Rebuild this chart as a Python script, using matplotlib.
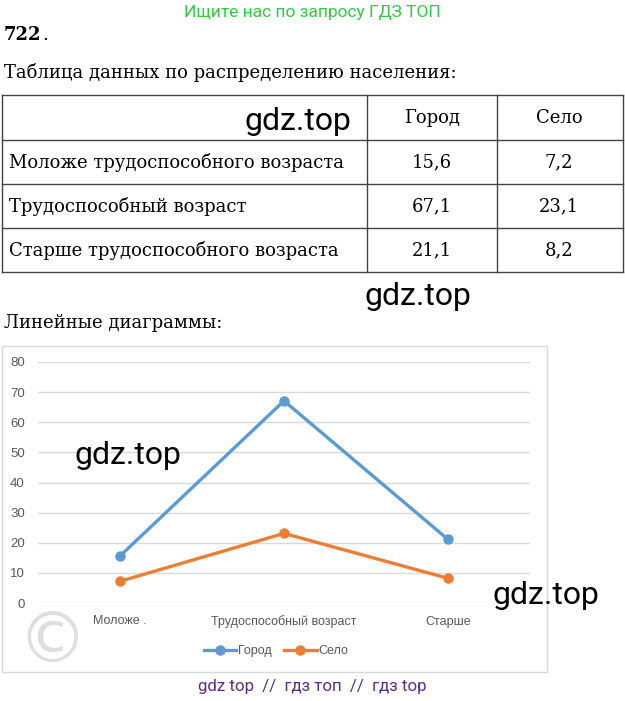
import matplotlib.pyplot as plt
from matplotlib.patches import Rectangle

# Данные таблицы и диаграммы
categories = ["Моложе трудоспособного возраста", "Трудоспособный возраст", "Старше трудоспособного возраста"]
axis_labels = ["Моложе .", "Трудоспособный возраст", "Старше"]
series_names = ["Город", "Село"]
city = [15.6, 67.1, 21.1]
village = [7.2, 23.1, 8.2]
city_txt = ["15,6", "67,1", "21,1"]
village_txt = ["7,2", "23,1", "8,2"]
yticks = [0, 10, 20, 30, 40, 50, 60, 70, 80]

W, H = 625, 701
fig = plt.figure(figsize=(W / 100, H / 100), dpi=100)
fig.patch.set_facecolor("white")

# фон-документ в пиксельных координатах
doc = fig.add_axes([0, 0, 1, 1])
doc.set_xlim(0, W)
doc.set_ylim(H, 0)
doc.axis("off")

serif = "DejaVu Serif"
fs = 13.0
doc.text(312, 12, "Ищите нас по запросу ГДЗ ТОП", color="#2ecc40", fontsize=12.5,
         family="Roboto", ha="center", va="center")
doc.text(4, 35, "722", fontsize=fs, family=serif, weight="bold", va="center")
doc.text(42, 35, ".", fontsize=fs, family=serif, va="center")
doc.text(4, 73, "Таблица данных по распределению населения:", fontsize=fs, family=serif, va="center")

# таблица
tl, tr = 2, 623
rows_y = [95, 140, 184, 228, 272]
cols_x = [tl, 367, 497, tr]
for y in rows_y:
    doc.plot([tl, tr], [y, y], color="#444444", lw=1)
for x in cols_x:
    doc.plot([x, x], [rows_y[0], rows_y[-1]], color="#444444", lw=1)

doc.text(432, 118, series_names[0], fontsize=fs, family=serif, ha="center", va="center")
doc.text(559, 118, series_names[1], fontsize=fs, family=serif, ha="center", va="center")
for i, cat in enumerate(categories):
    yc = (rows_y[i + 1] + rows_y[i + 2]) / 2
    doc.text(9, yc, cat, fontsize=fs, family=serif, va="center")
    doc.text(432, yc, city_txt[i], fontsize=fs, family=serif, ha="center", va="center")
    doc.text(559, yc, village_txt[i], fontsize=fs, family=serif, ha="center", va="center")

doc.text(4, 323, "Линейные диаграммы:", fontsize=fs, family=serif, va="center")

# рамка диаграммы
doc.add_patch(Rectangle((2, 346), 545, 326, fill=False, edgecolor="#d9d9d9", lw=1))
doc.text(52, 643, "©", fontsize=50, color="#dedede", ha="center", va="center", family="DejaVu Sans")

# диаграмма
ax = fig.add_axes([38 / W, 1 - 603 / H, 492 / W, 241 / H])
ax.set_facecolor("none")
x = range(len(categories))
ax.plot(x, city, color="#5b9bd5", lw=2.4, marker="o", markersize=6.5, label=series_names[0])
ax.plot(x, village, color="#ed7d31", lw=2.4, marker="o", markersize=6.5, label=series_names[1])
ax.set_xlim(-0.5, 2.5)
ax.set_ylim(0, 80)
ax.set_yticks(yticks)
ax.grid(axis="y", color="#d9d9d9", lw=1)
ax.set_axisbelow(True)
for s in ax.spines.values():
    s.set_visible(False)
ax.tick_params(length=0, colors="#595959", labelsize=9.5)
ax.tick_params(axis="y", pad=9.5)
ax.tick_params(axis="x", pad=9)
ax.set_xticks(list(x))
ax.set_xticklabels(axis_labels, family="Liberation Sans", fontsize=9, color="#595959")
for lab in ax.get_yticklabels():
    lab.set_family("Liberation Sans")
ax.legend(loc="center", bbox_to_anchor=(276 / W, 1 - 651 / H), bbox_transform=fig.transFigure,
          ncol=2, frameon=False, handlelength=2.6, columnspacing=1.0,
          handletextpad=0.15, labelcolor="#595959", prop={"family": "Liberation Sans", "size": 9})

# водяные знаки
wm = dict(fontsize=23, family="Roboto", color="black", ha="center", va="center", zorder=10)
fig.text(298 / W, 1 - 122 / H, "gdz.top", **wm)
fig.text(418 / W, 1 - 296 / H, "gdz.top", **wm)
fig.text(128 / W, 1 - 455 / H, "gdz.top", **wm)
fig.text(546 / W, 1 - 595 / H, "gdz.top", **wm)
fig.text(312 / W, 1 - 686 / H, "gdz top  //  гдз топ  //  гдз top", fontsize=12.2,
         family="Roboto", color="#5a2d8c", ha="center", va="center")

fig.savefig("out.png", dpi=100)
